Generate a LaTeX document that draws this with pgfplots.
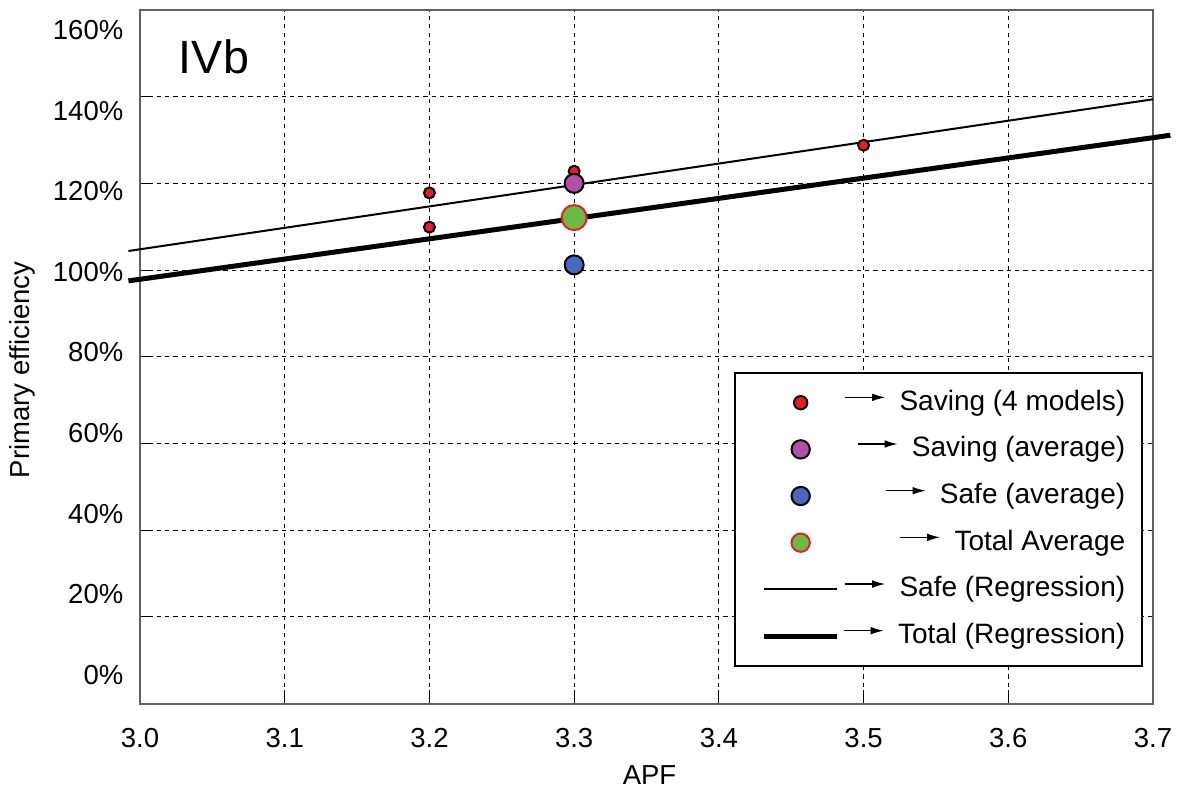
\documentclass[border=0pt]{standalone}
\usepackage{fontspec}
\setmainfont{Liberation Sans}
\usepackage{pgfplots}
\pgfplotsset{compat=1.18}
\usetikzlibrary{arrows.meta}
\definecolor{cred}{RGB}{236,28,36}
\definecolor{cpurple}{RGB}{178,79,168}
\definecolor{cblue}{RGB}{68,104,186}
\definecolor{cgreen}{RGB}{106,187,69}
\pgfplotsset{
  markleg/.style={legend image code/.code={\draw[##1, mark size=#1] plot coordinates {(22pt,0pt)};}},
  lineleg/.style={legend image code/.code={\draw[##1] (0pt,0pt)--(44pt,0pt);}},
}
\newsavebox\arrowbox
\newcommand\tickfont{\fontsize{16.5pt}{19pt}\selectfont}
\newcommand\legfont{\fontsize{16.8pt}{19pt}\selectfont}
\newcommand\leg[1]{\usebox\arrowbox\kern8pt #1\kern-8pt\relax}
\begin{document}
\sbox\arrowbox{\raisebox{5.4pt}{\tikz\draw[line width=0.9pt,-{Latex[length=8pt,width=4.6pt]}] (0,0)--(24pt,0);}}%
\begin{tikzpicture}
\begin{axis}[
  scale only axis, width=607.8pt, height=416.1pt,
  xmin=3.0, xmax=3.7, ymin=0, ymax=160,
  clip=false,
  /pgf/number format/assume math mode=true,
  axis line style={draw=black!62, line width=1.2pt},
  xtick={3.0,3.1,3.2,3.3,3.4,3.5,3.6,3.7},
  xticklabels={3.0,3.1,3.2,3.3,3.4,3.5,3.6,3.7},
  ytick={20,40,60,80,100,120,140},
  yticklabels={},
  extra y ticks={6.6,25.2,43.8,62.4,81.0,99.6,118.2,136.8,155.4},
  extra y tick labels={0\%,20\%,40\%,60\%,80\%,100\%,120\%,140\%,160\%},
  extra y tick style={grid=none, major tick length=0pt},
  xtick pos=bottom, ytick pos=left, tick align=inside,
  major tick length=8pt,
  tick style={black, line width=0.6pt},
  grid=major,
  major grid style={black, line width=0.6pt, dash pattern=on 2.5pt off 2.5pt},
  ticklabel style={font=\tickfont},
  xticklabel style={yshift=-11.5pt},
  yticklabel style={xshift=-6.5pt},
  xlabel={APF}, ylabel={Primary efficiency},
  every axis x label/.style={at={(axis description cs:0.503,-0.103)}, anchor=center, font=\tickfont},
  every axis y label/.style={at={(axis description cs:-0.1165,0.481)}, rotate=90, anchor=center, font=\tickfont},
  legend style={at={(rel axis cs:0.990,0.0526)}, anchor=south east,
    draw=black, line width=1.2pt, fill=white, font=\legfont,
    inner xsep=16pt, inner ysep=8pt, row sep=8pt, column sep=0pt,
    nodes={inner sep=2pt, text height=12.5pt, text depth=3.5pt}},
  legend cell align=right,
]
% regression lines
\addplot[black, line width=1.2pt, forget plot] coordinates {(2.992,104.4) (3.7,139.4)};
\addplot[black, line width=3pt, forget plot] coordinates {(2.992,97.5) (3.712,131.1)};
% points
\addplot[only marks, mark=*, mark size=3.3pt, mark options={draw=black, fill=cred, line width=1.2pt}, markleg=4pt]
  coordinates {(3.2,117.8) (3.2,109.9) (3.3,122.8) (3.5,128.8)};
\addlegendentry{\leg{Saving (4 models)}}
\addplot[only marks, mark=*, mark size=5.7pt, mark options={draw=black, fill=cpurple, line width=1.2pt}, markleg=5.5pt]
  coordinates {(3.3,120.0)};
\addlegendentry{\leg{Saving (average)}}
\addplot[only marks, mark=*, mark size=5.7pt, mark options={draw=black, fill=cblue, line width=1.2pt}, markleg=5.5pt]
  coordinates {(3.3,101.2)};
\addlegendentry{\leg{Safe (average)}}
\addplot[only marks, mark=*, mark size=7.5pt, mark options={draw=cred, fill=cgreen, line width=1.2pt}, markleg=5.5pt]
  coordinates {(3.3,112.1)};
\addlegendentry{\leg{Total Average}}
\addlegendimage{black, line width=1.2pt, lineleg}
\addlegendentry{\leg{Safe (Regression)}}
\addlegendimage{black, line width=3pt, lineleg}
\addlegendentry{\leg{Total (Regression)}}
\node[font=\fontsize{28pt}{32pt}\selectfont, anchor=center] at (rel axis cs:0.073,0.932) {IVb};
\end{axis}
\path (current axis.south west) ++(-84pt,-50.1pt);
\path (current axis.north east) ++(25.2pt,6pt);
\end{tikzpicture}
\end{document}
